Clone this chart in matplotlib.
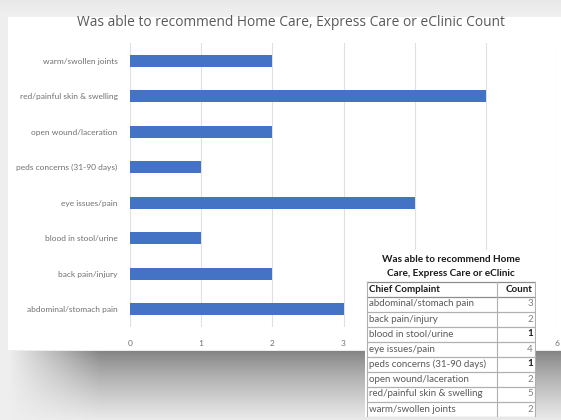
import numpy as np
import matplotlib
matplotlib.use("Agg")
from matplotlib import pyplot as plt
from matplotlib.patches import Rectangle

# chart data (bottom to top as Excel draws it)
complaints = ["abdominal/stomach pain", "back pain/injury", "blood in stool/urine",
              "eye issues/pain", "peds concerns (31-90 days)", "open wound/laceration",
              "red/painful skin & swelling", "warm/swollen joints"]
counts = [3, 2, 1, 4, 1, 2, 5, 2]
x_ticks = [0, 1, 2, 3, 4, 5, 6]
# 4 and 5 sit behind the pasted table in the screenshot
x_labels = ["0", "1", "2", "3", "", "", "6"]

title = "Was able to recommend Home Care, Express Care or eClinic Count"
table_title = ["Was able to recommend Home", "Care, Express Care or eClinic"]
table_head = ["Chief Complaint", "Count"]

W, H = 561, 420
fig = plt.figure(figsize=(W / 100, H / 100), dpi=100)

# background: grey screenshot surround with a soft shadow below the card
yy, xx = np.mgrid[0:H, 0:W]
bg = np.full((H, W), 0.93)
t = np.clip((yy - 350) / 70.0, 0, 1)
fade = np.clip((xx - 10) / 90.0, 0, 1)
shadow = 0.50 + 0.42 * t ** 0.8
bg = np.where(yy > 350, 0.93 * (1 - fade) + shadow * fade, bg)
bg = np.where(yy < 17, 0.91 + 0.03 * (yy / 17.0), bg)
bga = fig.add_axes([0, 0, 1, 1], zorder=0)
bga.imshow(bg, cmap="gray", vmin=0, vmax=1, aspect="auto", interpolation="bilinear")
bga.axis("off")

# white chart card
fig.patches.append(Rectangle((8 / W, 1 - 350 / H), 1 - 8 / W, (350 - 17) / H,
                             transform=fig.transFigure, facecolor="white",
                             edgecolor="none", zorder=1))

ax = fig.add_axes([130 / W, 1 - 327 / H, (557 - 130) / W, (327 - 43) / H], zorder=2)
ax.patch.set_alpha(0)
ypos = np.arange(len(complaints))
ax.barh(ypos, counts, height=0.35, color="#4472C4", zorder=3)
ax.set_xlim(0, 6)
ax.set_ylim(-0.5, len(complaints) - 0.5)
ax.set_xticks(x_ticks)
ax.set_xticklabels(x_labels)
ax.set_yticks(ypos)
ax.set_yticklabels(complaints)
ax.grid(axis="x", color="#e0e0e0", linewidth=0.8, zorder=0)
for s in ax.spines.values():
    s.set_visible(False)
ax.tick_params(length=0, labelsize=6, labelcolor="#707070", pad=9)
for lab in ax.get_xticklabels() + ax.get_yticklabels():
    lab.set_fontfamily("Lato")

fig.text(291 / W, 1 - 22 / H, title, ha="center", va="center",
         fontsize=9.9, color="#595959", family="Open Sans", zorder=3)

# the pasted table in the lower right
tx0, tx1, ty0, ty1 = 365, 536, 250, 417
tab = fig.add_axes([tx0 / W, 1 - ty1 / H, (tx1 - tx0) / W, (ty1 - ty0) / H], zorder=5)
tab.set_xlim(tx0, tx1)
tab.set_ylim(ty1, ty0)
tab.set_facecolor("white")
for s in tab.spines.values():
    s.set_visible(False)
tab.set_xticks([])
tab.set_yticks([])

col_x = 497
tab.text(451, 259, table_title[0], ha="center", va="center", fontsize=7.2,
         fontweight="bold", family="Lato", color="#1a1a1a")
tab.text(451, 274, table_title[1], ha="center", va="center", fontsize=7.2,
         fontweight="bold", family="Lato", color="#1a1a1a")
row_h = 15
head_y = 289
tab.text(369, head_y, table_head[0], ha="left", va="center", fontsize=7,
         fontweight="bold", family="Lato", color="#1a1a1a")
tab.text(533, head_y, table_head[1], ha="right", va="center", fontsize=7,
         fontweight="bold", family="Lato", color="#1a1a1a")
lines_y = [head_y - row_h / 2]
for i, (c, n) in enumerate(zip(complaints, counts)):
    y = head_y + row_h * (i + 1)
    tab.text(369, y, c, ha="left", va="center", fontsize=7, family="Lato",
             color="#595959")
    tab.text(533, y, str(n), ha="right", va="center", fontsize=7, family="Lato",
             color="#1a1a1a" if n == 1 else "#808080",
             fontweight="bold" if n == 1 else "normal")
    lines_y.append(y - row_h / 2)
lines_y.append(head_y + row_h * len(complaints) + row_h / 2)
for k, ly in enumerate(lines_y):
    tab.plot([367, 535], [ly, ly], color="#8c8c8c" if k in (0, 1) else "#b0b0b0",
             linewidth=0.9)
tab.plot([367, 367], [lines_y[0], lines_y[-1]], color="#b0b0b0", linewidth=0.8)
tab.plot([535, 535], [lines_y[0], lines_y[-1]], color="#b0b0b0", linewidth=0.8)
tab.plot([col_x, col_x], [lines_y[0], lines_y[-1]], color="#b0b0b0", linewidth=0.8)

fig.savefig("out.png", dpi=100)
